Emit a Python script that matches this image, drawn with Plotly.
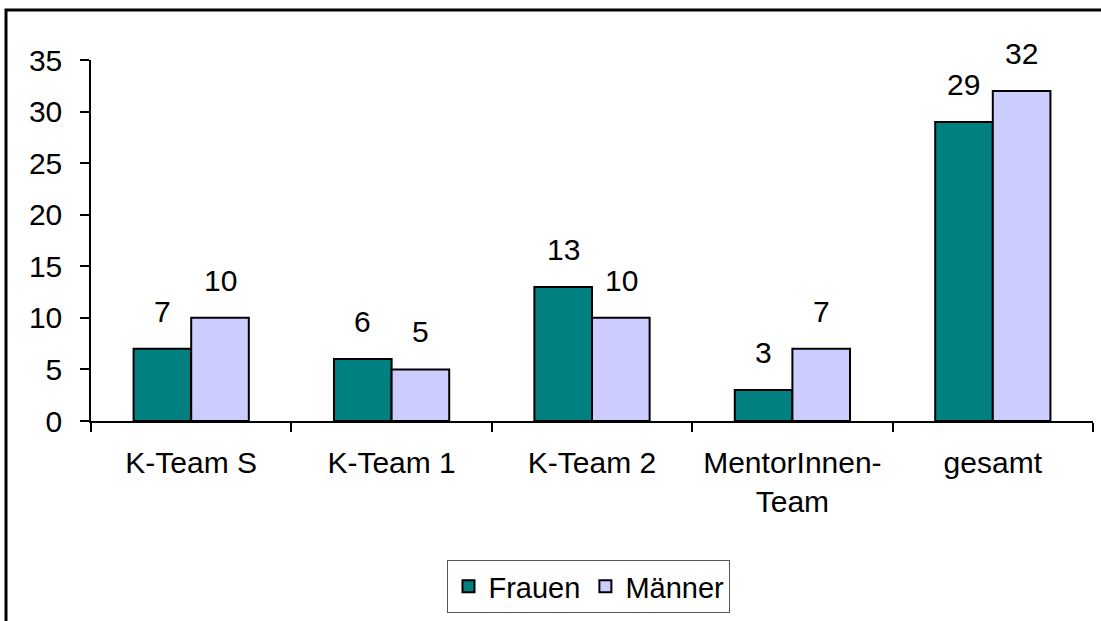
import plotly.graph_objects as go

categories = ["K-Team S", "K-Team 1", "K-Team 2", "MentorInnen-<br>Team", "gesamt"]
frauen = [7, 6, 13, 3, 29]
maenner = [10, 5, 10, 7, 32]
y_ticks = [0, 5, 10, 15, 20, 25, 30, 35]

FONT = "Liberation Sans, Arial, sans-serif"
FS = 30

fig = go.Figure()
fig.add_trace(go.Bar(name="Frauen", x=categories, y=frauen,
                     marker=dict(color="#008080", line=dict(color="black", width=2))))
fig.add_trace(go.Bar(name="Männer", x=categories, y=maenner,
                     marker=dict(color="#CCCCFF", line=dict(color="black", width=2))))

# value labels above bars
ann = []
for c, f, m in zip(categories, frauen, maenner):
    ann.append(dict(x=c, y=f, text=str(f), showarrow=False, xshift=-29, yshift=19,
                    yanchor="bottom", font=dict(size=FS, color="black", family=FONT)))
    ann.append(dict(x=c, y=m, text=str(m), showarrow=False, xshift=29, yshift=19,
                    yanchor="bottom", font=dict(size=FS, color="black", family=FONT)))

L, R, T, B = 91, 8, 60, 200
W, H = 1101, 621
pw, ph = W - L - R, H - T - B
fx0 = (6 - L) / pw
fy1 = (H - B - 10) / ph
fx1 = (W + 20 - L) / pw
fy0 = (H - B - H - 20) / ph

fig.update_layout(
    width=W, height=H,
    margin=dict(l=L, r=R, t=T, b=B),
    paper_bgcolor="white", plot_bgcolor="white",
    barmode="group", bargap=0.425, bargroupgap=0,
    font=dict(family=FONT, size=FS, color="black"),
    annotations=ann,
    showlegend=True,
    legend=dict(orientation="h", x=0.497, xanchor="center", y=-0.385, yanchor="top",
                bordercolor="#555555", borderwidth=1, font=dict(size=29, family=FONT),
                traceorder="normal", itemwidth=30),
    shapes=[dict(type="path", xref="paper", yref="paper",
                 path=f"M {fx0},{fy0} L {fx0},{fy1} L {fx1},{fy1}",
                 line=dict(color="black", width=3))],
    xaxis=dict(range=[-0.5, 4.5], showline=True, linecolor="black", linewidth=1.5,
               ticks="outside", tickson="boundaries", ticklen=9, tickcolor="black",
               tickwidth=1.5, showgrid=False, zeroline=False,
               tickfont=dict(size=FS, family=FONT), ticklabelstandoff=14),
    yaxis=dict(range=[0, 35], tickvals=y_ticks, showline=True, linecolor="black",
               linewidth=1.5, ticks="outside", ticklen=9, tickcolor="black",
               tickwidth=1.5, showgrid=False, zeroline=False,
               tickfont=dict(size=FS, family=FONT), ticklabelstandoff=12),
)

fig.write_html("out.html", config={"displayModeBar": False},
               post_script="document.body.style.margin='0';")
